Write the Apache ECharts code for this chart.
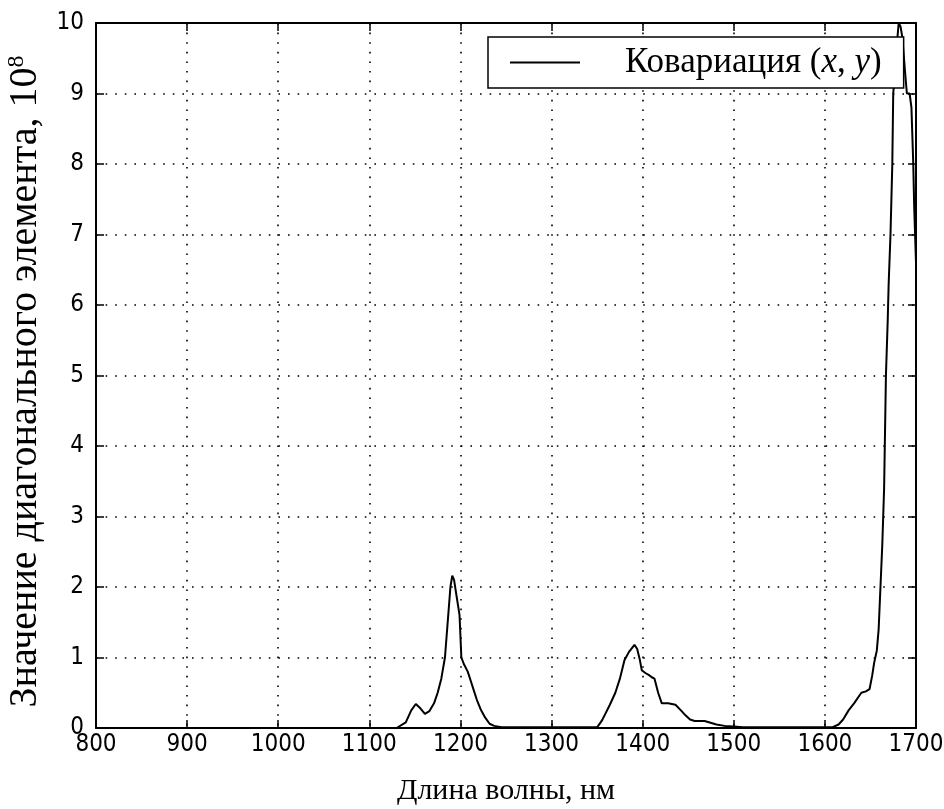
<!DOCTYPE html>
<html>
<head>
<meta charset="utf-8">
<script src="https://cdn.jsdelivr.net/npm/echarts@6/dist/echarts.min.js"></script>
<style>html,body{margin:0;padding:0;background:#fff}#c{width:944px;height:809px}</style>
</head>
<body>
<div id="c"></div>
<script>
// Data
const wavelengths = [800, 1130, 1140, 1146, 1151, 1156, 1161, 1166, 1171, 1175, 1179, 1183, 1186, 1189, 1191, 1193, 1196, 1199, 1201, 1204, 1208, 1211, 1215, 1218, 1222, 1227, 1232, 1237, 1245, 1350, 1355, 1359, 1364, 1370, 1375, 1380, 1385, 1391, 1394, 1397, 1399, 1403, 1407, 1410, 1413, 1417, 1421, 1428, 1436, 1442, 1447, 1452, 1457, 1468, 1481, 1490, 1500, 1510, 1608, 1615, 1620, 1626, 1632, 1640, 1645, 1649, 1652, 1654, 1657, 1659, 1661, 1663, 1665, 1667, 1669, 1670, 1672, 1674, 1675, 1677, 1679, 1681, 1683, 1685, 1688, 1690, 1693, 1695, 1696, 1697, 1698, 1699, 1700];
const covariance = [0, 0, 0.08, 0.25, 0.34, 0.28, 0.2, 0.24, 0.35, 0.5, 0.7, 1.0, 1.5, 2.0, 2.16, 2.1, 1.85, 1.6, 1.0, 0.9, 0.8, 0.68, 0.52, 0.4, 0.27, 0.15, 0.06, 0.03, 0.01, 0.01, 0.1, 0.2, 0.33, 0.5, 0.7, 0.96, 1.08, 1.18, 1.12, 0.96, 0.82, 0.78, 0.75, 0.72, 0.7, 0.5, 0.35, 0.35, 0.33, 0.25, 0.18, 0.12, 0.1, 0.1, 0.05, 0.03, 0.02, 0.01, 0.01, 0.05, 0.12, 0.25, 0.35, 0.5, 0.52, 0.55, 0.75, 0.92, 1.1, 1.4, 2.0, 2.6, 3.4, 5.0, 5.8, 6.3, 7.0, 8.0, 9.0, 9.3, 9.7, 10.0, 9.95, 9.8, 9.3, 9.0, 9.0, 8.8, 8.4, 8.0, 7.4, 7.0, 6.6];
const xTicks = [800, 900, 1000, 1100, 1200, 1300, 1400, 1500, 1600, 1700];
const yTicks = [0, 1, 2, 3, 4, 5, 6, 7, 8, 9, 10];
const seriesName = 'Ковариация (x, y)';

const chart = echarts.init(document.getElementById('c'), null, {renderer: 'canvas'});
const tickFont = '"DejaVu Sans Condensed", "Liberation Sans Narrow", "Liberation Sans", Arial, sans-serif';
const serif = '"Liberation Serif", "Times New Roman", serif';
const gridLine = {show: true, lineStyle: {color: '#000', type: [1.6, 8], width: 1.6}};
const tick = {show: true, inside: true, length: 8, lineStyle: {color: '#000', width: 1.5}};
const axLine = {show: true, onZero: false, lineStyle: {color: '#000', width: 2}};

chart.setOption({
  backgroundColor: '#fff',
  animation: false,
  grid: {left: 96, right: 28, top: 23, bottom: 81, containLabel: false, outerBoundsMode: 'none'},
  legend: {
    show: true,
    left: 488, top: 37,
    padding: [8, 22, 8, 22],
    backgroundColor: '#fff',
    borderColor: '#000', borderWidth: 1.5,
    itemWidth: 70, itemHeight: 2,
    icon: 'rect',
    data: [{name: seriesName, itemStyle: {color: '#000'}}],
    formatter: function () {
      return '{n|Ковариация (}{i|x}{n|, }{i|y}{n|)}';
    },
    textStyle: {
      padding: [0, 0, 0, 40],
      rich: {
        n: {fontFamily: serif, fontSize: 35, color: '#000'},
        i: {fontFamily: serif, fontSize: 35, fontStyle: 'italic', color: '#000'}
      }
    }
  },
  xAxis: [{
    type: 'value', min: 800, max: 1700, interval: 100,
    position: 'bottom',
    name: 'Длина волны, нм', nameLocation: 'middle', nameGap: 48,
    nameTextStyle: {fontFamily: serif, fontSize: 30, color: '#000'},
    axisLine: axLine, axisTick: tick,
    axisLabel: {show: true, color: '#000', fontFamily: tickFont, fontSize: 24, margin: 5,
      formatter: v => xTicks.includes(v) ? String(v) : ''},
    splitLine: gridLine
  }, {
    type: 'value', min: 800, max: 1700, interval: 100, position: 'top',
    axisLine: axLine, axisTick: tick, axisLabel: {show: false}, splitLine: {show: false}
  }],
  yAxis: [{
    type: 'value', min: 0, max: 10, interval: 1,
    position: 'left',
    name: '{a|Значение диагонального элемента, 10}{s|8}',
    nameLocation: 'middle', nameGap: 46, nameRotate: 90,
    nameTextStyle: {
      padding: [0, 12, 0, 0],
      rich: {
        a: {fontFamily: serif, fontSize: 40, color: '#000'},
        s: {fontFamily: serif, fontSize: 24, color: '#000', verticalAlign: 'top', padding: [0, 0, 18, 0]}
      }
    },
    axisLine: axLine, axisTick: tick,
    axisLabel: {show: true, color: '#000', fontFamily: tickFont, fontSize: 24, margin: 12,
      formatter: v => yTicks.includes(v) ? String(v) : ''},
    splitLine: gridLine
  }, {
    type: 'value', min: 0, max: 10, interval: 1, position: 'right',
    axisLine: axLine, axisTick: tick, axisLabel: {show: false}, splitLine: {show: false}
  }],
  series: [{
    name: seriesName,
    type: 'line',
    xAxisIndex: 0, yAxisIndex: 0,
    data: wavelengths.map((w, i) => [w, covariance[i]]),
    showSymbol: false, symbol: 'none',
    lineStyle: {color: '#000', width: 2},
    itemStyle: {color: '#000'},
    z: 3
  }]
});
</script>
</body>
</html>
